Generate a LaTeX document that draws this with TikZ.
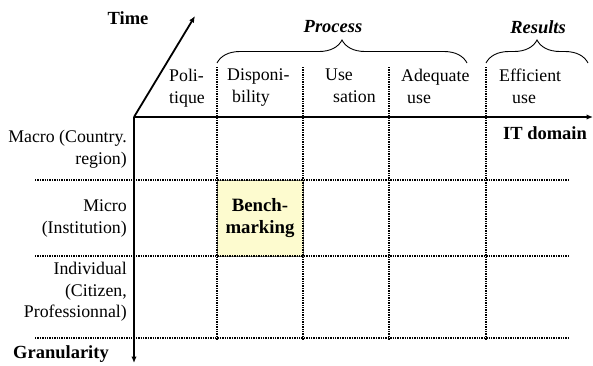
\documentclass[tikz,border=0pt]{standalone}
\usepackage{fontspec}
\setmainfont{Liberation Serif}
\usetikzlibrary{arrows.meta,decorations.pathreplacing}

\definecolor{benchfill}{HTML}{FDFBCF}
\definecolor{benchdraw}{HTML}{7F7F70}

\begin{document}
\begin{tikzpicture}[
  x=1pt, y=-1pt,
  font=\fontsize{17.8}{21.5}\selectfont,
  axis/.style  = {line width=1.8pt, -{Latex[length=6.5pt,width=5.5pt]}},
  grid/.style  = {line width=1.3pt, dash pattern=on 1.3pt off 1.1pt},
  collab/.style= {align=left, inner sep=0pt, anchor=north west},
  rowlab/.style= {align=right, inner sep=0pt, anchor=north east},
  title/.style = {font=\fontsize{18.5}{22}\selectfont\bfseries, inner sep=0pt},
  group/.style = {font=\fontsize{18.5}{22}\selectfont\bfseries\itshape, inner sep=0pt},
  curly/.style = {line width=0.9pt, decorate, decoration={brace, amplitude=23pt}},
  bench/.style = {draw=benchdraw, fill=benchfill, line width=0.9pt,
                  minimum width=86pt, minimum height=76pt, align=center,
                  font=\fontsize{18.8}{22}\selectfont\bfseries},
]
\useasboundingbox (0,0) rectangle (593,365);

%% --- the highlighted cell ---
\node[bench] (bench) at (260,218) {Bench-\\marking};

%% --- dotted grid ---
\foreach \gx in {217,303,389,486}
  \draw[grid] (\gx,67) -- (\gx,340);
\foreach \gy in {180,256,338}
  \draw[grid] (35,\gy) -- (570,\gy);

%% --- axes ---
\coordinate (O) at (134,117);
\coordinate (timeend) at (195,16);
\coordinate (domend) at (593,117);
\coordinate (granend) at (134,363);
\draw[axis] (O) -- (timeend);
\draw[axis] (O) -- (domend);
\draw[axis] (O) -- (granend);

\node[title] (time) at (128,18) {Time};
\node[title] (domain) at (545,133) {IT domain};
\node[title] (gran) at (61,354) {Granularity};

%% --- column heads ---
\node[collab] (poli)  at (169,69) {Poli-\\tique};
\node[collab] (dispo) at (227,69) {Disponi-\\\hspace{5pt}bility};
\node[collab] (use)   at (325,69) {Use\\\hspace{8pt}sation};
\node[collab] (adeq)  at (401,69) {Adequate\\\hspace{6pt}use};
\node[collab] (effic) at (499,69) {Efficient\\\hspace{13pt}use};

%% --- groups of columns ---
\draw[curly] (217,63) -- (467,63);
\draw[curly] (486,63) -- (588,63);
\node[group] (process) at (333,27) {Process};
\node[group] (results) at (538,27) {Results};

%% --- row heads ---
\node[rowlab] (macro) at (127,130) {Macro (Country.\\region)};
\node[rowlab] (micro) at (127,200) {Micro\\(Institution)};
\node[rowlab] (indiv) at (127,262) {Individual\\(Citizen,\\Professionnal)};
\end{tikzpicture}
\end{document}
